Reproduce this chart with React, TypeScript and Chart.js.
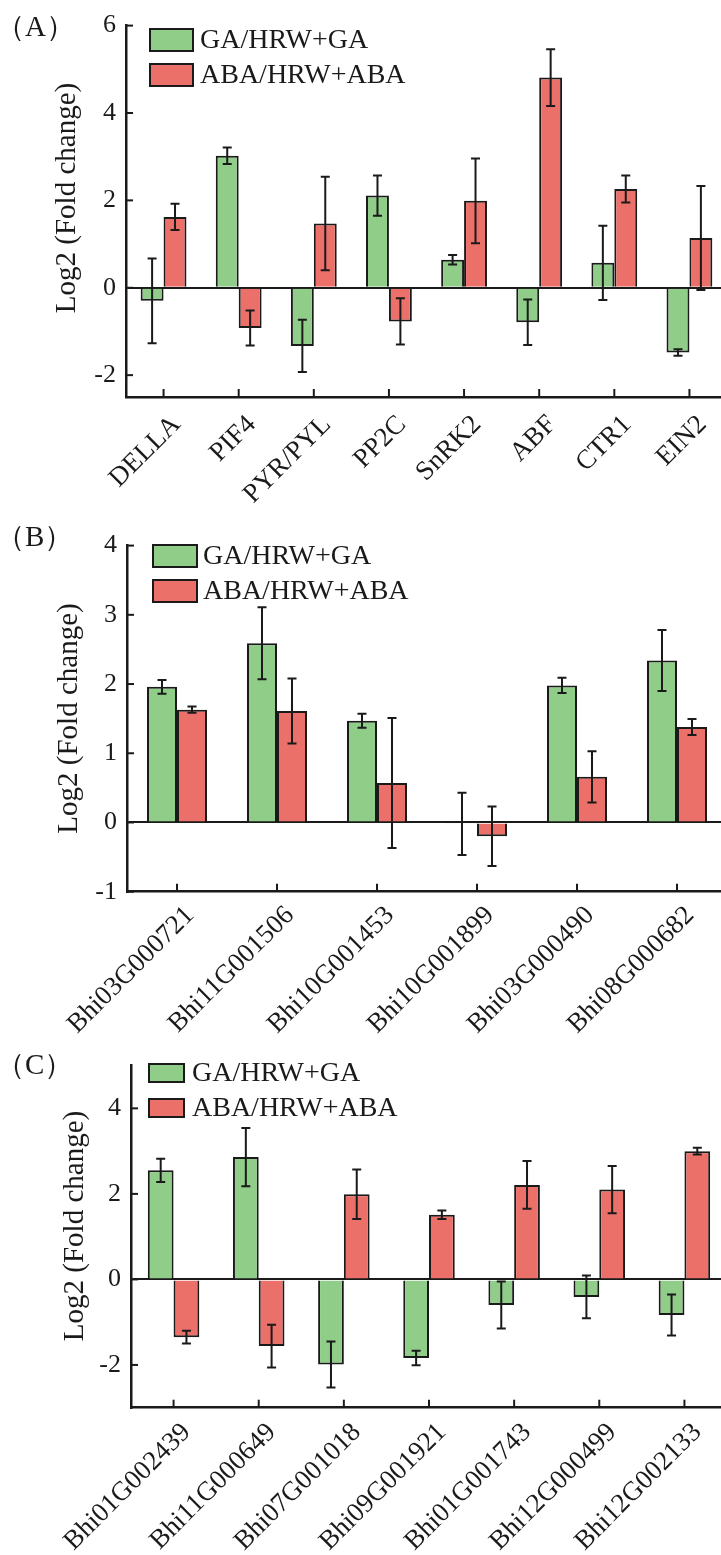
import React, { useEffect, useRef } from "react";
import { Chart, registerables } from "chart.js";
Chart.register(...registerables);

const SERIES_LABELS = ["GA/HRW+GA", "ABA/HRW+ABA"];
const GREEN = "#8fcd89";
const RED = "#ec706a";
const INK = "#1a1a1a";
const SERIF = "'Liberation Serif', 'Times New Roman', serif";
const Y_TITLE = "Log2 (Fold change)";

// Panel A
const CATEGORIES_A = ["DELLA", "PIF4", "PYR/PYL", "PP2C", "SnRK2", "ABF", "CTR1", "EIN2"];
const GA_A = [-0.3, 3.02, -1.33, 2.11, 0.64, -0.79, 0.57, -1.48];
const GA_ERR_A = [0.97, 0.19, 0.6, 0.46, 0.11, 0.52, 0.85, 0.075];
const ABA_A = [1.62, -0.92, 1.47, -0.77, 1.99, 4.81, 2.26, 1.14];
const ABA_ERR_A = [0.3, 0.4, 1.07, 0.53, 0.97, 0.65, 0.31, 1.19];
const Y_TICKS_A = [-2, 0, 2, 4, 6];
const Y_MIN_A = -2.5;
const Y_MAX_A = 6;

// Panel B
const CATEGORIES_B = ["Bhi03G000721", "Bhi11G001506", "Bhi10G001453", "Bhi10G001899", "Bhi03G000490", "Bhi08G000682"];
const GA_B = [1.96, 2.59, 1.47, -0.02, 1.98, 2.34];
const GA_ERR_B = [0.1, 0.52, 0.1, 0.45, 0.11, 0.44];
const ABA_B = [1.63, 1.61, 0.57, -0.2, 0.66, 1.38];
const ABA_ERR_B = [0.045, 0.47, 0.94, 0.43, 0.37, 0.115];
const Y_TICKS_B = [-1, 0, 1, 2, 3, 4];
const Y_MIN_B = -1;
const Y_MAX_B = 4;

// Panel C
const CATEGORIES_C = ["Bhi01G002439", "Bhi11G000649", "Bhi07G001018", "Bhi09G001921", "Bhi01G001743", "Bhi12G000499", "Bhi12G002133"];
const GA_C = [2.55, 2.86, -1.99, -1.84, -0.6, -0.41, -0.83];
const GA_ERR_C = [0.27, 0.68, 0.54, 0.17, 0.55, 0.5, 0.48];
const ABA_C = [-1.35, -1.56, 1.99, 1.51, 2.21, 2.1, 3.0];
const ABA_ERR_C = [0.15, 0.5, 0.58, 0.1, 0.56, 0.55, 0.08];
const Y_TICKS_C = [-2, 0, 2, 4];
const Y_MIN_C = -3;
const Y_MAX_C = 5;

const CANVAS_W = 728;

type Layout = {
  top: number;
  height: number;
  left: number;
  areaTop: number;
  areaBottom: number;
  catPct: number;
  labelOffset: number;
  labelPadding: number;
  titleX: number;
  titleY: number;
  panel: string;
  panelX: number;
  panelY: number;
  legendX: number;
  legendY: number;
  boxW: number;
  boxH: number;
  rowGap: number;
  textX: number;
};

type PanelProps = {
  categories: string[];
  ga: number[];
  gaErr: number[];
  aba: number[];
  abaErr: number[];
  yTicks: number[];
  yMin: number;
  yMax: number;
  layout: Layout;
};

function Panel({ categories, ga, gaErr, aba, abaErr, yTicks, yMin, yMax, layout }: PanelProps) {
  const ref = useRef<HTMLCanvasElement | null>(null);

  useEffect(() => {
    if (!ref.current) return;
    const errs = [gaErr, abaErr];
    const L = layout;

    const decor = {
      id: "decor",
      afterDatasetsDraw(chart: any) {
        const ctx = chart.ctx;
        const ys = chart.scales.y;
        const xs = chart.scales.x;
        const area = chart.chartArea;
        ctx.save();
        // error bars
        ctx.strokeStyle = INK;
        ctx.lineWidth = 2;
        chart.data.datasets.forEach((ds: any, di: number) => {
          const meta = chart.getDatasetMeta(di);
          meta.data.forEach((el: any, j: number) => {
            const v = ds.data[j];
            const e = errs[di][j];
            const yT = ys.getPixelForValue(v + e);
            const yB = ys.getPixelForValue(v - e);
            const x = el.x;
            ctx.beginPath();
            ctx.moveTo(x, yT);
            ctx.lineTo(x, yB);
            ctx.moveTo(x - 4.5, yT);
            ctx.lineTo(x + 4.5, yT);
            ctx.moveTo(x - 4.5, yB);
            ctx.lineTo(x + 4.5, yB);
            ctx.stroke();
          });
        });
        // inward ticks
        ctx.lineWidth = 2;
        ys.ticks.forEach((t: any) => {
          const y = ys.getPixelForValue(t.value);
          ctx.beginPath();
          ctx.moveTo(area.left, y);
          ctx.lineTo(area.left + 7, y);
          ctx.stroke();
        });
        categories.forEach((_, i) => {
          const x = xs.getPixelForValue(i);
          ctx.beginPath();
          ctx.moveTo(x, area.bottom);
          ctx.lineTo(x, area.bottom - 8);
          ctx.stroke();
        });
        // legend
        ctx.font = `28px ${SERIF}`;
        ctx.textBaseline = "middle";
        ctx.textAlign = "left";
        chart.data.datasets.forEach((ds: any, di: number) => {
          const by = L.legendY + di * L.rowGap;
          ctx.fillStyle = ds.backgroundColor;
          ctx.fillRect(L.legendX, by, L.boxW, L.boxH);
          ctx.lineWidth = 2;
          ctx.strokeStyle = INK;
          ctx.strokeRect(L.legendX, by, L.boxW, L.boxH);
          ctx.fillStyle = INK;
          ctx.fillText(ds.label, L.textX, by + L.boxH / 2 + 1);
        });
        // panel label
        ctx.font = `29px ${SERIF}`;
        ctx.fillStyle = INK;
        ctx.textBaseline = "middle";
        ctx.fillText(L.panel, L.panelX, L.panelY);
        // y title
        ctx.save();
        ctx.translate(L.titleX, L.titleY);
        ctx.rotate(-Math.PI / 2);
        ctx.textAlign = "center";
        ctx.textBaseline = "middle";
        ctx.font = `29px ${SERIF}`;
        ctx.fillText(Y_TITLE, 0, 0);
        ctx.restore();
        ctx.restore();
      },
    };

    const chart = new Chart(ref.current, {
      type: "bar",
      data: {
        labels: categories,
        datasets: [
          { label: SERIES_LABELS[0], data: ga, backgroundColor: GREEN, borderColor: INK, borderWidth: 2, categoryPercentage: L.catPct, barPercentage: 1 },
          { label: SERIES_LABELS[1], data: aba, backgroundColor: RED, borderColor: INK, borderWidth: 2, categoryPercentage: L.catPct, barPercentage: 1 },
        ],
      },
      options: {
        responsive: false,
        animation: false,
        devicePixelRatio: 1,
        layout: { padding: { top: L.areaTop, right: 1, left: 0, bottom: 0 } },
        plugins: { legend: { display: false }, tooltip: { enabled: false } },
        scales: {
          x: {
            grid: { display: true, color: "rgba(0,0,0,0)", drawTicks: false },
            border: { display: true, color: INK, width: 2.5 },
            ticks: {
              autoSkip: false,
              minRotation: 45,
              maxRotation: 45,
              labelOffset: L.labelOffset,
              padding: L.labelPadding,
              color: INK,
              font: { family: SERIF, size: 27 },
            },
            afterFit: (s: any) => {
              s.height = L.height - L.areaBottom;
            },
          },
          y: {
            min: yMin,
            max: yMax,
            grid: {
              drawTicks: false,
              lineWidth: 2,
              color: (c: any) => (c.tick && c.tick.value === 0 ? INK : "rgba(0,0,0,0)"),
            },
            border: { display: true, color: INK, width: 2.5 },
            ticks: { color: INK, padding: 10, font: { family: SERIF, size: 26 } },
            afterBuildTicks: (s: any) => {
              s.ticks = yTicks.map((v) => ({ value: v }));
            },
            afterFit: (s: any) => {
              s.width = L.left;
            },
          },
        },
      },
      plugins: [decor],
    });
    return () => chart.destroy();
  }, []);

  return (
    <canvas
      ref={ref}
      width={CANVAS_W}
      height={layout.height}
      style={{ position: "absolute", left: 0, top: layout.top, width: CANVAS_W, height: layout.height }}
    />
  );
}

const LAYOUT_A: Layout = {
  top: 0, height: 520, left: 126, areaTop: 20, areaBottom: 397, catPct: 0.61,
  labelOffset: 13, labelPadding: 12, titleX: 67, titleY: 198,
  panel: "（A）", panelX: -4, panelY: 28,
  legendX: 150, legendY: 29, boxW: 43, boxH: 22, rowGap: 35, textX: 200,
};
const LAYOUT_B: Layout = {
  top: 520, height: 520, left: 127, areaTop: 25, areaBottom: 371.7, catPct: 0.6,
  labelOffset: 13, labelPadding: 8, titleX: 69, titleY: 198.5,
  panel: "（B）", panelX: -4, panelY: 18,
  legendX: 153, legendY: 25, boxW: 44, boxH: 22, rowGap: 35, textX: 203,
};
const LAYOUT_C: Layout = {
  top: 1040, height: 515, left: 131, areaTop: 23.3, areaBottom: 367.7, catPct: 0.605,
  labelOffset: 13, labelPadding: 9, titleX: 75, titleY: 186,
  panel: "（C）", panelX: -4, panelY: 26,
  legendX: 149, legendY: 24, boxW: 35, boxH: 18, rowGap: 35, textX: 192,
};

export default function App() {
  return (
    <div style={{ position: "absolute", left: 0, top: 0, width: 721, height: 1555, overflow: "hidden", background: "#fff" }}>
      <Panel categories={CATEGORIES_A} ga={GA_A} gaErr={GA_ERR_A} aba={ABA_A} abaErr={ABA_ERR_A} yTicks={Y_TICKS_A} yMin={Y_MIN_A} yMax={Y_MAX_A} layout={LAYOUT_A} />
      <Panel categories={CATEGORIES_B} ga={GA_B} gaErr={GA_ERR_B} aba={ABA_B} abaErr={ABA_ERR_B} yTicks={Y_TICKS_B} yMin={Y_MIN_B} yMax={Y_MAX_B} layout={LAYOUT_B} />
      <Panel categories={CATEGORIES_C} ga={GA_C} gaErr={GA_ERR_C} aba={ABA_C} abaErr={ABA_ERR_C} yTicks={Y_TICKS_C} yMin={Y_MIN_C} yMax={Y_MAX_C} layout={LAYOUT_C} />
    </div>
  );
}
